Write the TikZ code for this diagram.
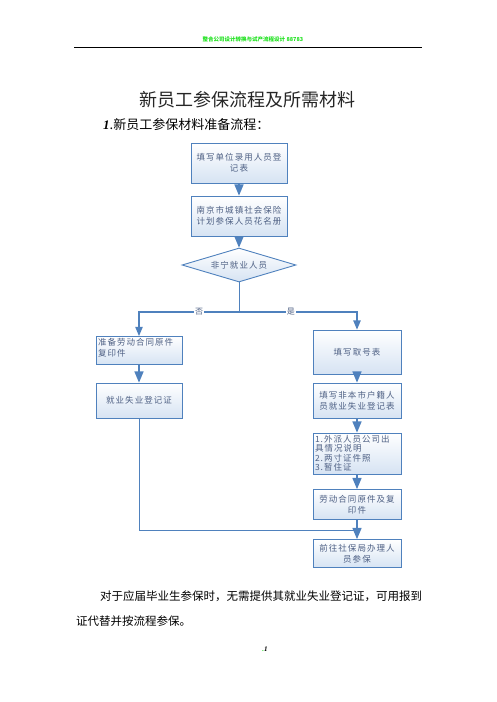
\documentclass[tikz,border=0pt]{standalone}
\usepackage{fontspec}
\setmainfont{Liberation Serif}
\newfontfamily\cjk{Noto Sans CJK SC}
\newfontfamily\boxfont[LetterSpace=12]{Noto Sans CJK SC}
\usepackage{xcolor}
\usetikzlibrary{shapes.geometric, arrows}
\definecolor{boxline}{RGB}{79,129,189}
\definecolor{boxfill}{RGB}{214,227,243}
\definecolor{boxtext}{RGB}{78,96,132}
\definecolor{hdrgreen}{RGB}{30,225,30}
\tikzset{
    stepbox/.style={rectangle, draw=boxline, line width=0.9pt, top color=white, bottom color=boxfill, text=boxtext, font=\boxfont\fontsize{8.5}{11}\selectfont, align=center, inner sep=2pt},
    leftbox/.style={stepbox, minimum width=86pt, text width=82pt},
    rightbox/.style={stepbox, minimum width=88pt, text width=84pt},
    decision/.style={diamond, aspect=3.3, minimum width=114pt, minimum height=34pt, draw=boxline, line width=0.9pt, top color=white, bottom color=boxfill, text=boxtext, font=\boxfont\fontsize{8.5}{11}\selectfont, inner sep=1pt},
    arrow/.style={draw=boxline, line width=1.6pt, ->, >=triangle 45},
    line/.style={draw=boxline, line width=1pt},
    branch/.style={fill=white, text=boxtext, font=\cjk\fontsize{8}{9}\selectfont, inner sep=1pt}
}

\begin{document}
\begin{tikzpicture}[x=1pt, y=-1pt, node distance=50pt]
    \useasboundingbox (0,0) rectangle (496,702);
    % page header and title
    \node (header) at (253,39) [text=hdrgreen, font=\cjk\bfseries\fontsize{5.5}{6}\selectfont] {整合公司设计转换与试产流程设计 88783};
    \draw [line width=0.8pt] (74,47) -- (422,47);
    \node (title) at (247,100) [text=black!85, font=\cjk\fontsize{18}{20}\selectfont] {新员工参保流程及所需材料};
    \node (subtitle) at (103,125) [anchor=west, inner sep=0pt, font=\cjk\fontsize{13}{15}\selectfont] {{\rmfamily\bfseries\itshape 1}.新员工参保材料准备流程：};

    % flow
    \node (reg) at (239,163) [stepbox, minimum width=96pt, text width=92pt, minimum height=40pt] {填写单位录用人员登\\记表};
    \node (roster) [stepbox, below of=reg, yshift=-3pt, minimum width=96pt, text width=92pt, minimum height=40pt] {南京市城镇社会保险\\计划参保人员花名册};
    \node (check) [decision, below of=roster, yshift=1pt] {非宁就业人员};
    \coordinate (split) at (239,312);
    \node (contract) at (139,350.5) [leftbox, align=left, text depth=17pt] {准备劳动合同原件\\复印件};
    \node (quota) at (357,352) [rightbox, minimum height=44pt] {填写取号表};
    \node (cert) [leftbox, below of=contract, minimum height=35pt] {就业失业登记证};
    \node (regform) [rightbox, below of=quota, yshift=1.5pt, minimum height=35pt] {填写非本市户籍人\\员就业失业登记表};
    \node (docs) [rightbox, below of=regform, yshift=-3pt, minimum height=41pt, align=left, font=\boxfont\fontsize{8.5}{9.5}\selectfont] {1.外派人员公司出\\具情况说明\\2.两寸证件照\\3.暂住证};
    \node (copies) [rightbox, below of=docs, yshift=-1pt, minimum height=30pt] {劳动合同原件及复\\印件};
    \node (apply) [rightbox, below of=copies, yshift=1pt, minimum height=28pt] {前往社保局办理人\\员参保};
    \coordinate (join) at (357,530);

    \draw [arrow] (reg) -- (roster);
    \draw [arrow] (roster) -- (check);
    \draw [line] (check) -- (split);
    \draw [arrow, line width=1.1pt] (split) -| node[branch, pos=0.2] {否} (contract);
    \draw [arrow, line width=1.1pt] (split) -| node[branch, pos=0.22] {是} (quota);
    \draw [arrow] (contract) -- (cert);
    \draw [arrow] (quota) -- (regform);
    \draw [arrow] (regform) -- (docs);
    \draw [arrow] (docs) -- (copies);
    \draw [arrow] (copies) -- (apply);
    \draw [line] (cert) |- (join);

    % note below
    \node (note1) at (100,596) [anchor=west, inner sep=0pt, font=\cjk\fontsize{11.5}{13}\selectfont] {对于应届毕业生参保时，无需提供其就业失业登记证，可用报到};
    \node (note2) at (76,621) [anchor=west, inner sep=0pt, font=\cjk\fontsize{11.5}{13}\selectfont] {证代替并按流程参保。};
    \node (pagenum) at (265,649) [font=\rmfamily\bfseries\itshape\fontsize{7}{8}\selectfont] {{\color{hdrgreen}.}1};
\end{tikzpicture}
\end{document}
